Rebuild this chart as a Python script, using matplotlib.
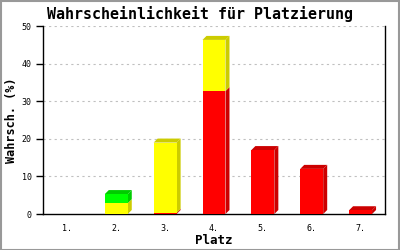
import matplotlib
matplotlib.use("Agg")
import matplotlib.pyplot as plt
from matplotlib.patches import Polygon, Rectangle
import numpy as np

categories = ["1.", "2.", "3.", "4.", "5.", "6.", "7."]
red_vals = [0.0, 0.0, 0.3, 32.7, 17.0, 12.0, 1.0]
yellow_vals = [0.0, 2.9, 18.7, 13.6, 0.0, 0.0, 0.0]
green_vals = [0.0, 2.4, 0.0, 0.0, 0.0, 0.0, 0.0]
yticks = [0, 10, 20, 30, 40, 50]

series = [(red_vals, "#ff0000", "#cc0000"),
          (yellow_vals, "#ffff00", "#cccc00"),
          (green_vals, "#00ff00", "#00cc00")]

plt.rcParams['font.family'] = ['DejaVu Sans Mono']
fig = plt.figure(figsize=(4, 2.5), dpi=100)
fig.patch.set_facecolor("white")
ax = fig.add_axes([43/400, 36/250, 342/400, 188/250])
ax.set_xlim(0.5, 7.5)
ax.set_ylim(0, 50)

x = np.arange(1, len(categories) + 1)
width = 0.47
depth_px = 4
x_per_px = 7 / 342
y_per_px = 50 / 188
dx = depth_px * x_per_px
dy = depth_px * y_per_px

for gy in yticks[1:]:
    ax.axhline(gy, color="#c0c0c0", lw=0.8, ls=(0, (2, 3)), zorder=0)

bottoms = np.zeros(len(categories))
fronts = []
for si, (vals, col, dark) in enumerate(series):
    for i, v in enumerate(vals):
        if v <= 0:
            continue
        L = x[i] - width / 2
        R = x[i] + width / 2
        b = bottoms[i]
        t = b + v
        side = Polygon([(R, b), (R + dx, b + dy), (R + dx, t + dy), (R, t)],
                       closed=True, facecolor=dark, edgecolor="none", zorder=2)
        ax.add_patch(side)
        is_top = all(s[0][i] <= 0 for s in series[si + 1:])
        if is_top:
            top = Polygon([(L, t), (L + dx, t + dy), (R + dx, t + dy), (R, t)],
                          closed=True, facecolor=dark, edgecolor="none", zorder=2)
            ax.add_patch(top)
        fronts.append((L, b, v, col))
    bottoms = bottoms + np.array(vals)

for L, b, v, col in fronts:
    ax.add_patch(Rectangle((L, b), width, v, facecolor=col, edgecolor="none", zorder=3))

ax.set_xticks(x)
ax.set_xticklabels(categories, fontsize=6)
ax.set_yticks(yticks)
ax.set_yticklabels([str(t) for t in yticks], fontsize=6)
ax.tick_params(axis="x", length=0, pad=7)
ax.tick_params(axis="y", length=5, width=1, pad=3)
for s in ["left", "right", "bottom"]:
    ax.spines[s].set_linewidth(1.0)
    ax.spines[s].set_color("black")
ax.spines["top"].set_visible(False)

ax.set_xlabel("Platz", fontsize=9, fontweight="bold", va="center")
ax.xaxis.set_label_coords(0.5, (214 - 240) / 188)
ax.set_ylabel("Wahrsch. (%)", fontsize=8.5, fontweight="bold", va="center")
ax.yaxis.set_label_coords((12 - 43) / 342, 0.5)
fig.text(0.5, 1 - 14/250, "Wahrscheinlichkeit für Platzierung", ha="center", va="center",
         fontsize=10.8, fontweight="bold")

border = Rectangle((0.5/400, 0.5/250), 1 - 1.5/400, 1 - 1.5/250, transform=fig.transFigure,
                   fill=False, edgecolor="#999999", lw=1.5)
fig.patches.append(border)

fig.savefig("out.png", dpi=100)
